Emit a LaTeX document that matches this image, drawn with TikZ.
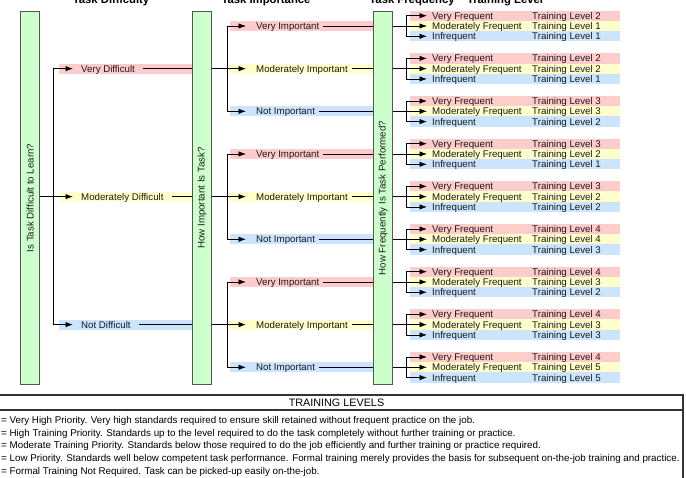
\documentclass[tikz,border=0pt]{standalone}
\usepackage{fontspec}
\setmainfont{Liberation Sans}
\usetikzlibrary{arrows.meta}
\definecolor{bpink}{HTML}{FFCCCC}
\definecolor{byellow}{HTML}{FFFFCC}
\definecolor{bblue}{HTML}{CCE5FF}
\definecolor{qgreen}{HTML}{CCFFCC}
\definecolor{qborder}{HTML}{555555}
\definecolor{txt}{HTML}{1A1A1A}
\definecolor{frame}{HTML}{333333}
\begin{document}
\begin{tikzpicture}[x=1pt,y=-1pt,
  qbox/.style={draw=qborder, fill=qgreen, line width=1.1pt, minimum width=19pt, minimum height=373pt, inner sep=0pt, anchor=north west},
  qtext/.style={rotate=90, font=\fontsize{9.7}{11}\selectfont, text=txt, inner sep=0pt},
  lbl/.style={font=\fontsize{9.7}{11}\selectfont, text=txt, inner sep=0pt, anchor=west, text height=6.9pt, text depth=0pt},
  head/.style={font=\bfseries\fontsize{11.3}{13}\selectfont, text=black, inner sep=0pt, anchor=base},
  conn/.style={line width=0.8pt, black},
  arr/.style={conn, -{Latex[length=7.5pt,width=5.5pt]}},
  legframe/.style={draw=frame, line width=1.2pt},
  legtext/.style={font=\fontsize{9.8}{11}\selectfont, text=black, inner sep=0pt, anchor=west, text height=7pt, text depth=0pt}
]
\clip (0,0) rectangle (686,477);

% headings
\node[head] (h1) at (111,3.3) {Task Difficulty};
\node[head] (h2) at (266,3.3) {Task Importance};
\node[head] (h3) at (412,3.3) {Task Frequency};
\node[head] (h4) at (505,3.3) {Training Level};

% question boxes
\node[qbox] (q1) at (20,11) {};
\node[qbox] (q2) at (192,11) {};
\node[qbox] (q3) at (373,11) {};
\node[qtext] (q1t) at (q1.center) {Is Task Difficult to Learn?};
\node[qtext] (q2t) at (q2.center) {How Important Is Task?};
\node[qtext] (q3t) at (q3.center) {How Frequently Is Task Performed?};

% difficulty labels
\foreach \n/\k/\c/\t in {d1/1/bpink/Very Difficult, d2/4/byellow/Moderately Difficult, d3/7/bblue/Not Difficult}{
  \pgfmathsetmacro\y{26+42.66*\k}
  \fill[\c] (59,\y-5) rectangle (192,\y+5);
  \node[lbl] (\n) at (81,\y) {\t};
}

% importance labels
\foreach \n/\k/\c/\t in {i0/0/bpink/Very Important, i1/1/byellow/Moderately Important, i2/2/bblue/Not Important,
  i3/3/bpink/Very Important, i4/4/byellow/Moderately Important, i5/5/bblue/Not Important,
  i6/6/bpink/Very Important, i7/7/byellow/Moderately Important, i8/8/bblue/Not Important}{
  \pgfmathsetmacro\y{26+42.66*\k}
  \fill[\c] (230,\y-5) rectangle (373,\y+5);
  \node[lbl] (\n) at (256,\y) {\t};
}

% frequency labels and training levels
\foreach \j/\la/\lb/\lc in {0/2/1/1, 1/2/2/1, 2/3/3/2, 3/3/2/1, 4/3/2/2, 5/4/4/3, 6/4/3/2, 7/4/3/3, 8/4/5/5}{
  \pgfmathsetmacro\y{26+42.66*\j}
  \fill[bpink] (410,\y-15.45) rectangle (620,\y-5.15);
  \fill[byellow] (410,\y-5.15) rectangle (620,\y+5.15);
  \fill[bblue] (410,\y+5.15) rectangle (620,\y+15.45);
  \node[lbl] (f\j a) at (432,\y-10.3) {Very Frequent};
  \node[lbl] (f\j b) at (432,\y) {Moderately Frequent};
  \node[lbl] (f\j c) at (432,\y+10.3) {Infrequent};
  \node[lbl] (t\j a) at (532,\y-10.3) {Training Level \la};
  \node[lbl] (t\j b) at (532,\y) {Training Level \lb};
  \node[lbl] (t\j c) at (532,\y+10.3) {Training Level \lc};
}

% difficulty connectors
\coordinate (jd) at (53,0);
\draw[conn] (q1.east |- d2.west) -- (jd |- d2.west);
\draw[conn] (jd |- d1.west) -- (jd |- d3.west);
\foreach \n in {d1,d2,d3}{
  \draw[arr] (jd |- \n.west) -- ([xshift=-8pt]\n.west);
  \draw[conn] ([xshift=8pt]\n.east) -- (q2.west |- \n.east);
}

% importance connectors
\coordinate (ja) at (227,0);
\foreach \d/\a/\b/\c in {d1/i0/i1/i2, d2/i3/i4/i5, d3/i6/i7/i8}{
  \draw[conn] (q2.east |- \d.west) -- (ja |- \b.west);
  \draw[conn] (ja |- \a.west) -- (ja |- \c.west);
  \foreach \n in {\a,\b,\c}{
    \draw[arr] (ja |- \n.west) -- ([xshift=-10pt]\n.west);
    \draw[conn] ([xshift=4pt]\n.east) -- (q3.west |- \n.east);
  }
}

% frequency connectors
\coordinate (jf) at (406,0);
\foreach \j in {0,...,8}{
  \draw[conn] (q3.east |- f\j b.west) -- (jf |- f\j b.west);
  \draw[conn] (jf |- f\j a.west) -- (jf |- f\j c.west);
  \foreach \r in {a,b,c}{
    \draw[arr] (jf |- f\j\r.west) -- ([xshift=-5pt]f\j\r.west);
  }
}

% legend
\draw[legframe] (-5,395) rectangle (683,495);
\draw[legframe] (-5,410) -- (683,410);
\node[font=\fontsize{10.8}{12}\selectfont, text=black, inner sep=0pt] (lt) at (336.5,403) {TRAINING LEVELS};
\node[legtext] (l1) at (1,420) {= Very High Priority. Very high standards required to ensure skill retained without frequent practice on the job.};
\node[legtext] (l2) at (1,432.7) {= High Training Priority. Standards up to the level required to do the task completely without further training or practice.};
\node[legtext] (l3) at (1,445.4) {= Moderate Training Priority. Standards below those required to do the job efficiently and further training or practice required.};
\node[legtext] (l4) at (1,458.2) {= Low Priority. Standards well below competent task performance. Formal training merely provides the basis for subsequent on-the-job training and practice.};
\node[legtext] (l5) at (1,471) {= Formal Training Not Required. Task can be picked-up easily on-the-job.};
\end{tikzpicture}
\end{document}
